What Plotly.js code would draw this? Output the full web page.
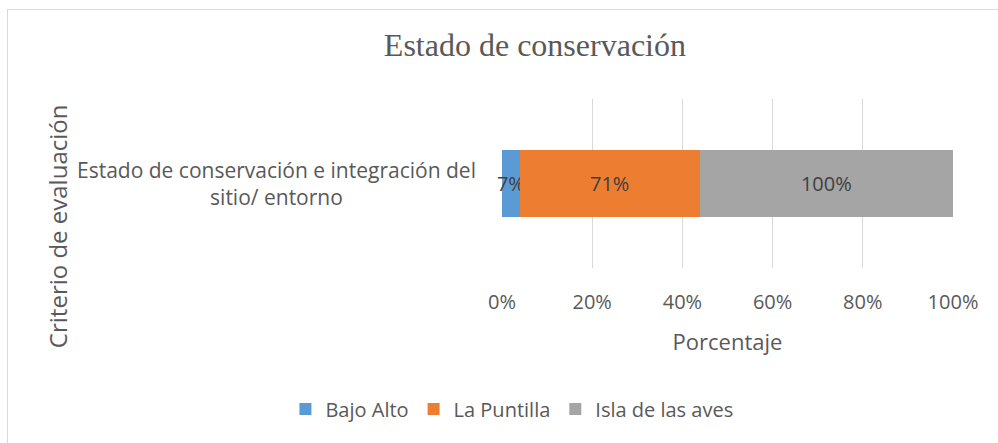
<!DOCTYPE html>
<html><head><meta charset="utf-8">
<script src="https://cdn.plot.ly/plotly-3.0.1.min.js"></script>
<style>
html,body{margin:0;padding:0;background:#fff;overflow:hidden}
#chart{width:998px;height:443px;position:absolute;left:0;top:0}
#frame{position:absolute;left:7px;top:9px;width:1100px;height:600px;border:1px solid #d9d9d9;pointer-events:none}
</style></head>
<body>
<div id="chart"></div>
<div id="frame"></div>
<script>
const categories = ["Estado de conservación e integración del<br>sitio/ entorno"];
const seriesNames = ["Bajo Alto", "La Puntilla", "Isla de las aves"];
const bajoAlto = [7];
const laPuntilla = [71];
const islaAves = [100];
const colors = ["#5b9bd5", "#ed7d31", "#a5a5a5"];
const tickVals = [0, 20, 40, 60, 80, 100];
const tickText = ["0%", "20%", "40%", "60%", "80%", "100%"];

const seriesData = [bajoAlto, laPuntilla, islaAves];
const traces = seriesData.map((vals, i) => ({
  type: "bar",
  orientation: "h",
  name: seriesNames[i],
  x: vals,
  y: [0],
  marker: {color: colors[i]},
  text: vals.map(v => v + "%"),
  textposition: "inside",
  textangle: 0,
  insidetextanchor: "middle",
  constraintext: "none",
  cliponaxis: false,
  textfont: {family: "Open Sans", size: 20, color: "#404040"},
  hoverinfo: "skip"
}));

const layout = {
  width: 998, height: 443,
  margin: {l: 502, r: 45, t: 99, b: 175},
  paper_bgcolor: "#fff", plot_bgcolor: "#fff",
  barmode: "stack", barnorm: "percent", bargap: 0.604,
  title: {text: "Estado de conservación", x: 0.536, xanchor: "center", y: 0.898, yanchor: "middle",
          font: {family: "Liberation Serif", size: 32, color: "#595959"}},
  xaxis: {range: [0, 100], tickvals: tickVals, ticktext: tickText, showgrid: true, gridcolor: "#d9d9d9",
          gridwidth: 1, zeroline: false, showline: false, ticks: "", ticklabelstandoff: 20,
          tickfont: {family: "Open Sans", size: 20, color: "#595959"},
          title: {text: "Porcentaje", standoff: 20, font: {family: "Open Sans", size: 22, color: "#595959"}},
          fixedrange: true},
  yaxis: {range: [-0.5, 0.5], showticklabels: false, showgrid: false, zeroline: false, showline: false,
          ticks: "", fixedrange: true},
  showlegend: true,
  legend: {orientation: "h", x: 0.022, xanchor: "center", y: -0.834, yanchor: "middle",
           font: {family: "Open Sans", size: 20, color: "#595959"}, traceorder: "normal"},
  annotations: [
    {text: categories[0], xref: "paper", x: 0, xanchor: "right", xshift: -24, yref: "y", y: 0, yanchor: "middle",
     align: "center", showarrow: false, font: {family: "Open Sans", size: 21, color: "#595959"}},
    {text: "Criterio de evaluación", xref: "paper", x: -0.984, xanchor: "center", yref: "paper", y: 0.249, yanchor: "middle",
     textangle: -90, showarrow: false, font: {family: "Open Sans", size: 24, color: "#595959"}}
  ]
};

Plotly.newPlot("chart", traces, layout, {displayModeBar: false, staticPlot: true});
</script>
</body></html>
